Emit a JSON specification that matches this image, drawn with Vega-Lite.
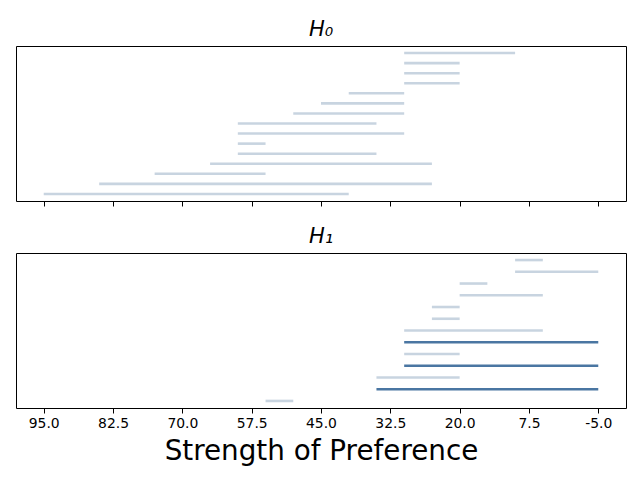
{
  "$schema": "https://vega.github.io/schema/vega-lite/v6.json",
  "padding": {"left": 15, "right": 15, "top": 18, "bottom": 5},
  "background": "white",
  "spacing": 18,
  "config": {
    "view": {"stroke": "black", "strokeWidth": 1},
    "font": "DejaVu Sans",
    "title": {"font": "DejaVu Sans", "fontStyle": "oblique", "fontSize": 21, "fontWeight": "normal", "baseline": "alphabetic", "offset": 6, "color": "black"},
    "axis": {"domain": false, "grid": false, "tickColor": "black", "tickWidth": 1, "tickSize": 5, "labelFont": "DejaVu Sans", "labelFontSize": 13.9, "labelColor": "black", "labelPadding": 3, "titleFont": "DejaVu Sans", "titleFontSize": 27.8, "titleFontWeight": "normal", "titleColor": "black", "titlePadding": 8}
  },
  "datasets": {
    "h0": [
      {"row": 14, "start": 30, "end": 10},
      {"row": 13, "start": 30, "end": 20},
      {"row": 12, "start": 30, "end": 20},
      {"row": 11, "start": 30, "end": 20},
      {"row": 10, "start": 40, "end": 30},
      {"row": 9, "start": 45, "end": 30},
      {"row": 8, "start": 50, "end": 30},
      {"row": 7, "start": 60, "end": 35},
      {"row": 6, "start": 60, "end": 30},
      {"row": 5, "start": 60, "end": 55},
      {"row": 4, "start": 60, "end": 35},
      {"row": 3, "start": 65, "end": 25},
      {"row": 2, "start": 75, "end": 55},
      {"row": 1, "start": 85, "end": 25},
      {"row": 0, "start": 95, "end": 40}
    ],
    "h1": [
      {"row": 12, "start": 10, "end": 5, "highlight": "no"},
      {"row": 11, "start": 10, "end": -5, "highlight": "no"},
      {"row": 10, "start": 20, "end": 15, "highlight": "no"},
      {"row": 9, "start": 20, "end": 5, "highlight": "no"},
      {"row": 8, "start": 25, "end": 20, "highlight": "no"},
      {"row": 7, "start": 25, "end": 20, "highlight": "no"},
      {"row": 6, "start": 30, "end": 5, "highlight": "no"},
      {"row": 5, "start": 30, "end": -5, "highlight": "yes"},
      {"row": 4, "start": 30, "end": 20, "highlight": "no"},
      {"row": 3, "start": 30, "end": -5, "highlight": "yes"},
      {"row": 2, "start": 35, "end": 20, "highlight": "no"},
      {"row": 1, "start": 35, "end": -5, "highlight": "yes"},
      {"row": 0, "start": 55, "end": 50, "highlight": "no"}
    ]
  },
  "vconcat": [
    {
      "title": "H₀",
      "width": 610,
      "height": 155,
      "data": {"name": "h0"},
      "mark": {"type": "rule", "strokeWidth": 2.6, "color": "#c8d4e0"},
      "encoding": {
        "x": {"field": "start", "type": "quantitative", "scale": {"domain": [-10, 100], "reverse": true, "nice": false, "zero": false}, "axis": {"values": [95, 82.5, 70, 57.5, 45, 32.5, 20, 7.5, -5], "labels": false, "title": null}},
        "x2": {"field": "end"},
        "y": {"field": "row", "type": "quantitative", "scale": {"domain": [-0.7, 14.7], "nice": false, "zero": false}, "axis": null}
      }
    },
    {
      "title": "H₁",
      "width": 610,
      "height": 155,
      "data": {"name": "h1"},
      "mark": {"type": "rule", "strokeWidth": 2.6},
      "encoding": {
        "x": {"field": "start", "type": "quantitative", "scale": {"domain": [-10, 100], "reverse": true, "nice": false, "zero": false}, "axis": {"values": [95, 82.5, 70, 57.5, 45, 32.5, 20, 7.5, -5], "labelExpr": "replace(format(datum.value, '.1f'), '−', '-')", "title": "Strength of Preference"}},
        "x2": {"field": "end"},
        "y": {"field": "row", "type": "quantitative", "scale": {"domain": [-0.6, 12.6], "nice": false, "zero": false}, "axis": null},
        "color": {"field": "highlight", "type": "nominal", "scale": {"domain": ["no", "yes"], "range": ["#c8d4e0", "#4a76a2"]}, "legend": null},
        "strokeWidth": {"field": "highlight", "type": "nominal", "scale": {"domain": ["no", "yes"], "range": [2.6, 3.2]}, "legend": null}
      }
    }
  ]
}
